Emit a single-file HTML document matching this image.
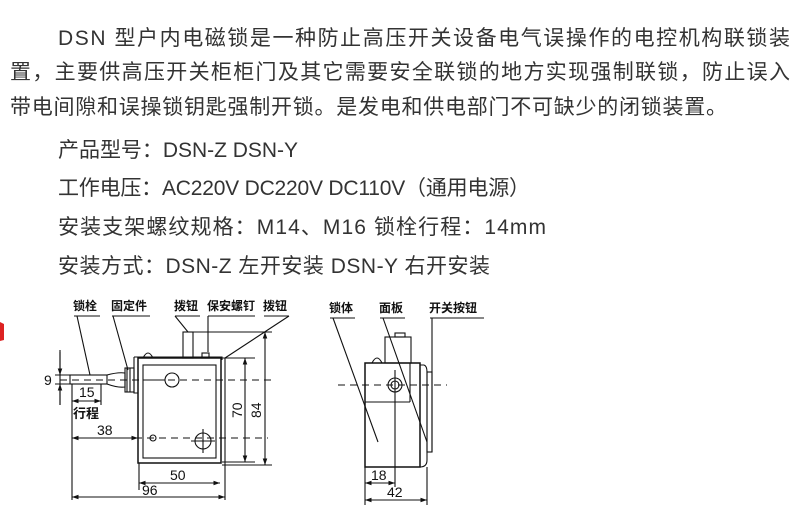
<!DOCTYPE html>
<html><head><meta charset="utf-8"><style>
html,body{margin:0;padding:0;background:#fff;width:800px;height:521px;overflow:hidden}
svg{display:block}
.t{font-family:"Liberation Sans","Noto Sans CJK SC",sans-serif;font-size:21px;fill:#333}
.l{font-family:"Liberation Sans","Noto Sans CJK SC",sans-serif;font-size:12px;font-weight:bold;fill:#111}
.d{font-family:"Liberation Sans",sans-serif;font-size:14px;fill:#111}
</style></head><body>
<svg width="800" height="521" viewBox="0 0 800 521" xmlns="http://www.w3.org/2000/svg">
<defs>
<marker id="a" viewBox="0 0 10 10" refX="10" refY="5" markerWidth="6" markerHeight="6" orient="auto-start-reverse"><path d="M0,1.5 L10,5 L0,8.5z" fill="#111"/></marker>
</defs>
<text class="t" x="58" y="45" textLength="732" lengthAdjust="spacing">DSN 型户内电磁锁是一种防止高压开关设备电气误操作的电控机构联锁装</text>
<text class="t" x="10" y="79" textLength="780" lengthAdjust="spacing">置，主要供高压开关柜柜门及其它需要安全联锁的地方实现强制联锁，防止误入</text>
<text class="t" x="10" y="114" textLength="717" lengthAdjust="spacing">带电间隙和误操锁钥匙强制开锁。是发电和供电部门不可缺少的闭锁装置。</text>
<text class="t" x="58" y="157" textLength="240" lengthAdjust="spacing">产品型号：DSN-Z DSN-Y</text>
<text class="t" x="58" y="195" textLength="472" lengthAdjust="spacing">工作电压：AC220V DC220V DC110V（通用电源）</text>
<text class="t" x="58" y="234" textLength="488" lengthAdjust="spacing">安装支架螺纹规格：M14、M16 锁栓行程：14mm</text>
<text class="t" x="58" y="273" textLength="432" lengthAdjust="spacing">安装方式：DSN-Z 左开安装 DSN-Y 右开安装</text>

<path d="M0,322 L4,324 L4,340 L0,341z" fill="#d22"/>

<g stroke="#111" stroke-width="1.1" fill="none">
<!-- left drawing -->
<text class="l" x="73" y="310" stroke="none">锁栓</text>
<text class="l" x="111" y="310" stroke="none">固定件</text>
<text class="l" x="174" y="310" stroke="none">拨钮</text>
<text class="l" x="207" y="310" stroke="none">保安螺钉</text>
<text class="l" x="263" y="310" stroke="none">拨钮</text>
<path d="M74,316 H100 M77,316 L90,375 M112,316 H150 M113,316 L128,370 M175,316 H200 M175,316 L188,332 M208,316 H255 M208,316 V352 M264,316 H289 M289,316 L225,358"/>
<rect x="138" y="358" width="83" height="105" stroke-width="1.5"/>
<rect x="143" y="365" width="73" height="93"/>
<path d="M134,357 V393 H138 M134,357 H222 V360"/>
<path d="M221,358 H225 V500"/>
<rect x="183" y="332" width="10" height="26"/>
<rect x="202" y="353" width="7" height="5"/>
<path d="M143,358 Q148,348 153,358"/>
<rect x="70" y="375" width="37" height="9"/>
<path d="M107,375 Q118,372 125,373 V387 Q118,388 107,384"/>
<rect x="125" y="368" width="9" height="24"/>
<path d="M127,368 V392 M130,368 V392"/>
<path d="M143,380 H165"/>
<circle cx="172" cy="380" r="7"/>
<circle cx="153" cy="438" r="3"/>
<circle cx="203" cy="441" r="8"/>
<path d="M203,429 V453 M191,441 H215"/>
<path d="M60,380 H272 M75,438 H268" stroke-dasharray="7,5"/>
<path d="M60,350 V405"/>
<path d="M60,352 V375" marker-end="url(#a)"/>
<path d="M60,405 V384" marker-end="url(#a)"/>
<path d="M55,375 H70 M55,384 H70"/>
<path d="M72,384 V500 M101,384 V405"/>
<path d="M72,401 H101" marker-start="url(#a)" marker-end="url(#a)"/>
<path d="M72,438 H138" marker-start="url(#a)" marker-end="url(#a)"/>
<path d="M139,463 V490"/>
<path d="M139,483 H220" marker-start="url(#a)" marker-end="url(#a)"/>
<path d="M72,497 H225" marker-start="url(#a)" marker-end="url(#a)"/>
<path d="M193,332 H272 M225,358 H255 M222,462 H255 M222,465 H272"/>
<path d="M245,358 V462" marker-start="url(#a)" marker-end="url(#a)"/>
<path d="M265,332 V465" marker-start="url(#a)" marker-end="url(#a)"/>
<text class="d" x="44" y="385" stroke="none">9</text>
<text class="d" x="79" y="397" stroke="none">15</text>
<text class="l" x="73" y="418" stroke="none" style="font-size:13px">行程</text>
<text class="d" x="97" y="435" stroke="none">38</text>
<text class="d" x="170" y="480" stroke="none">50</text>
<text class="d" x="142" y="495" stroke="none">96</text>
<text class="d" x="0" y="0" stroke="none" transform="translate(242,418) rotate(-90)">70</text>
<text class="d" x="0" y="0" stroke="none" transform="translate(261,418) rotate(-90)">84</text>

<!-- right drawing -->
<text class="l" x="329" y="312" stroke="none">锁体</text>
<text class="l" x="379" y="312" stroke="none">面板</text>
<text class="l" x="429" y="312" stroke="none">开关按钮</text>
<path d="M330,318 H355 M333,318 L378,442 M380,318 H405 M383,318 L427,442 M430,318 H484 M432,318 V452"/>
<rect x="365" y="363" width="55" height="104" stroke-width="1.5"/>
<path d="M365,402 H410 M410,363 V402"/>
<path d="M420,365 H424 Q427,366 427,372 V460 Q427,467 420,467"/>
<rect x="427" y="372" width="5" height="80"/>
<rect x="385" y="337" width="26" height="26"/>
<rect x="395" y="333" width="10" height="4"/>
<path d="M372,363 Q377,353 382,363"/>
<circle cx="395" cy="385" r="7"/>
<circle cx="395" cy="385" r="4"/>
<path d="M338,385 H447" stroke-dasharray="7,5"/>
<path d="M365,467 V505 M395,370 V487 M427,467 V505"/>
<path d="M365,483 H395" marker-start="url(#a)" marker-end="url(#a)"/>
<path d="M365,500 H427" marker-start="url(#a)" marker-end="url(#a)"/>
<text class="d" x="371" y="480" stroke="none">18</text>
<text class="d" x="387" y="497" stroke="none">42</text>
</g>
</svg>
</body></html>
